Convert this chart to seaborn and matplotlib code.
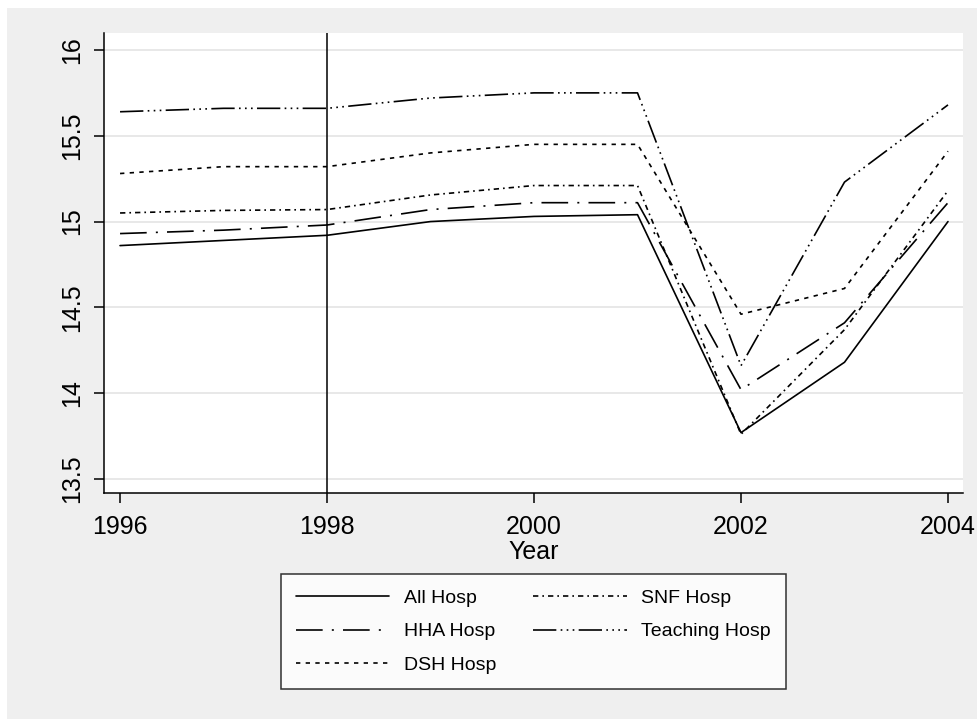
import seaborn as sns
import matplotlib.pyplot as plt
import matplotlib.patches as mpatches

# data
years = [1996, 1997, 1998, 1999, 2000, 2001, 2002, 2003, 2004]
all_hosp = [14.86, 14.89, 14.92, 15.00, 15.03, 15.04, 13.77, 14.18, 15.00]
hha_hosp = [14.93, 14.95, 14.98, 15.07, 15.11, 15.11, 14.02, 14.41, 15.11]
dsh_hosp = [15.28, 15.32, 15.32, 15.40, 15.45, 15.45, 14.46, 14.61, 15.41]
snf_hosp = [15.05, 15.065, 15.07, 15.155, 15.21, 15.21, 13.76, 14.37, 15.18]
teach_hosp = [15.64, 15.66, 15.66, 15.72, 15.75, 15.75, 14.16, 15.23, 15.68]
y_ticks = [13.5, 14, 14.5, 15, 15.5, 16]
x_ticks = [1996, 1998, 2000, 2002, 2004]

sns.set_style('white')
plt.rcParams['font.family'] = ['Liberation Sans', 'DejaVu Sans']
plt.rcParams['text.color'] = 'black'

fig = plt.figure(figsize=(9.77, 7.19), dpi=100, facecolor='white')
# light gray graph region (thin white border at top/left like the original)
fig.patches.append(mpatches.Rectangle((7 / 977, 0), 1, 1 - 8 / 719, transform=fig.transFigure,
                                      facecolor='#EFEFEF', edgecolor='none', zorder=-10))

ax = fig.add_axes([104 / 977, 1 - 493 / 719, (963 - 104) / 977, (493 - 33) / 719])
ax.set_facecolor('white')

series = [
    ('All Hosp', all_hosp, '-'),
    ('HHA Hosp', hha_hosp, (0, (16, 5.5, 1.2, 5.5))),
    ('DSH Hosp', dsh_hosp, (0, (2.6, 3.2))),
    ('SNF Hosp', snf_hosp, (0, (3.2, 2.4, 1.0, 2.4))),
    ('Teaching Hosp', teach_hosp, (0, (14, 2.6, 1, 2.6, 1, 2.6, 1, 2.6))),
]
for name, vals, ls in series:
    sns.lineplot(x=years, y=vals, ax=ax, color='black', linewidth=1.2,
                 linestyle=ls, label=name, legend=False)

ax.axvline(1998, color='black', linewidth=1.1)

ax.set_xlim(1995.845, 2004.145)
ax.set_ylim(13.418, 16.099)
ax.set_xticks(x_ticks)
ax.set_yticks(y_ticks)
ax.set_yticklabels(['13.5', '14', '14.5', '15', '15.5', '16'], rotation=90, va='center')
ax.grid(axis='y', color='#E6E6E6', linewidth=1.3)
ax.set_axisbelow(True)
for s in ['top', 'right']:
    ax.spines[s].set_visible(False)
for s in ['left', 'bottom']:
    ax.spines[s].set_color('black')
    ax.spines[s].set_linewidth(1.1)
ax.tick_params(axis='both', direction='out', length=7, width=1.1, color='black',
               labelcolor='black', labelsize=18, left=True, bottom=True)
ax.tick_params(axis='y', pad=7)
ax.tick_params(axis='x', pad=8.5)
ax.set_xlabel('Year', fontsize=18, labelpad=1, color='black')
ax.set_ylabel('')

handles, labels = ax.get_legend_handles_labels()
leg = fig.legend(handles, labels, loc='upper center', bbox_to_anchor=(533.5 / 977, 1 - 574 / 719),
                 ncol=2, fontsize=14, frameon=True, fancybox=False, edgecolor='black',
                 handlelength=4.8, handletextpad=0.75, columnspacing=1.9, labelspacing=0.8,
                 borderpad=0.8, borderaxespad=0, labelcolor='black')
leg.get_frame().set_linewidth(1.1)
leg.get_frame().set_facecolor('white')

plt.savefig('out.png', dpi=100, facecolor=fig.get_facecolor())
